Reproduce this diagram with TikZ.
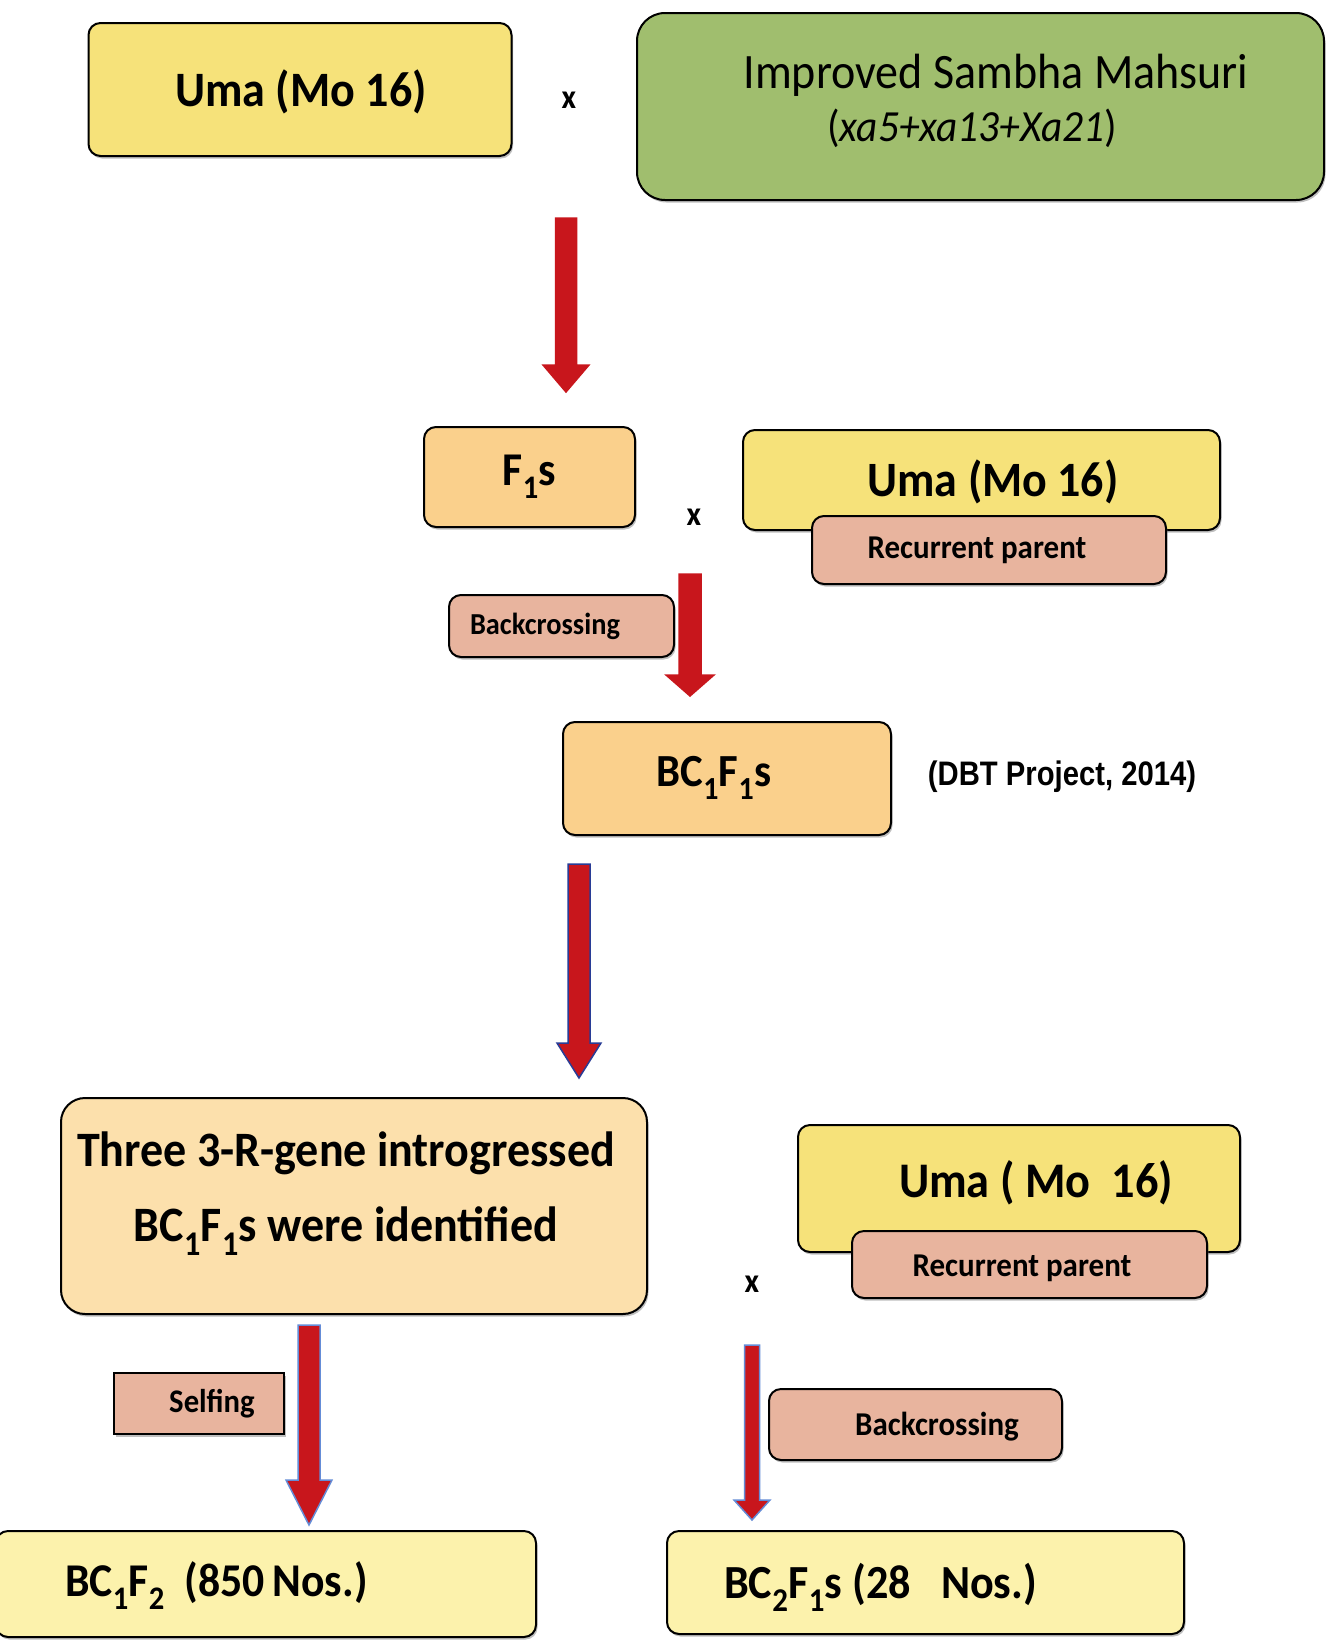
\documentclass[tikz,border=0pt]{standalone}
\usepackage{fontspec}
\setmainfont{Carlito}[FakeStretch=0.93]
\newfontfamily\arialfont{Liberation Sans}[FakeStretch=0.86]
\usetikzlibrary{shadows}
\definecolor{umayel}{RGB}{246,226,122}
\definecolor{sambgreen}{RGB}{160,190,110}
\definecolor{f1orange}{RGB}{250,208,140}
\definecolor{threebox}{RGB}{252,224,172}
\definecolor{recpink}{RGB}{232,180,158}
\definecolor{paleyel}{RGB}{252,242,172}
\definecolor{arrred}{RGB}{200,22,28}
\definecolor{navyedge}{RGB}{40,60,150}
\definecolor{lightblueedge}{RGB}{100,140,215}
\tikzset{
  box/.style={draw=black, line width=2pt, rounded corners=12pt, inner sep=0pt,
    drop shadow={shadow xshift=1.5pt, shadow yshift=-2.5pt, opacity=0.5}},
  txt/.style={font=\bfseries, inner sep=0pt},
}
\newcommand\fsz[1]{\fontsize{#1}{1.2\dimexpr#1pt\relax}\selectfont}
% \myarrow{x}{ytop}{ybottom}{shaft half}{head half}{head len}{fill}{edge}
\newcommand\myarrow[8]{%
  \filldraw[fill=#7, draw=#8, line width=1.5pt, line join=miter]
    (#1-#4,#2) -- (#1+#4,#2) -- (#1+#4,#3-#6) -- (#1+#5,#3-#6) -- (#1,#3)
    -- (#1-#5,#3-#6) -- (#1-#4,#3-#6) -- cycle;}
\begin{document}
\begin{tikzpicture}[x=1pt,y=-1pt]
\useasboundingbox[fill=white] (0,0) rectangle (1329,1652);

% top row
\node[box, fill=umayel, minimum width=423pt, minimum height=133pt] (uma1) at (300,89.5) {};
\node[txt, font=\bfseries\fsz{49.5}] (uma1t) at (301,92) {Uma (Mo 16)};
\node[txt, font=\bfseries\fsz{34}] (x1) at (569,100) {x};
\node[box, fill=sambgreen, rounded corners=28pt, minimum width=687pt, minimum height=187pt] (ism) at (980.5,106.5) {};
\node[inner sep=0pt, align=center] (ismt) at (982,101)
  {\fontsize{49.5}{56}\selectfont Improved Sambha Mahsuri\hspace*{-28pt}\\[11pt]
   \fontsize{44.5}{56}\selectfont(\textit{xa5+xa13+Xa21})\hspace*{20pt}};

\myarrow{566}{218}{392}{10.5}{23}{27}{arrred}{arrred}

% F1 row
\node[box, fill=f1orange, minimum width=211pt, minimum height=100pt] (f1) at (529.5,477) {};
\node[txt, font=\bfseries\fsz{47}] (f1t) at (f1.center) {F\textsubscript{1}s};
\node[txt, font=\bfseries\fsz{34}] (x2) at (694,517) {x};
\node[box, fill=umayel, minimum width=477pt, minimum height=100pt] (uma2) at (981.5,480) {};
\node[txt, font=\bfseries\fsz{49.4}] (uma2t) at (993,482) {Uma (Mo 16)};
\node[box, fill=recpink, minimum width=354pt, minimum height=68pt] (rp1) at (989,550) {};
\node[txt, font=\bfseries\fsz{33.3}] (rp1t) at (977,550) {Recurrent parent};

\node[box, fill=recpink, minimum width=225pt, minimum height=62pt] (bc1) at (561.5,626) {};
\node[txt, font=\bfseries\fsz{30.5}] (bc1t) at (545,626) {Backcrossing};
\myarrow{690}{574}{696}{11}{24}{21}{arrred}{arrred}

% BC1F1s
\node[box, fill=f1orange, minimum width=328pt, minimum height=113pt] (bcf) at (727,778.5) {};
\node[txt, font=\bfseries\fsz{46}] (bcft) at (714,778) {BC\textsubscript{1}F\textsubscript{1}s};
\node[txt, font=\arialfont\bfseries\fsz{34}] (dbt) at (1062,777) {(DBT Project, 2014)};

\myarrow{579}{864}{1078}{11}{22}{35}{arrred}{navyedge}

% Three 3-R-gene box
\node[box, fill=threebox, rounded corners=24pt, minimum width=586pt, minimum height=216pt] (three) at (354,1206) {};
\node[txt, align=center, font=\bfseries\fontsize{49.5}{75}\selectfont] (threet) at (346,1194)
  {Three 3-R-gene introgressed\\BC\textsubscript{1}F\textsubscript{1}s were identified};

\node[box, fill=umayel, minimum width=442pt, minimum height=127pt] (uma3) at (1019,1188.5) {};
\node[txt, font=\bfseries\fsz{49.8}] (uma3t) at (1036,1183) {Uma ( Mo~~16)};
\node[box, fill=recpink, minimum width=355pt, minimum height=67pt] (rp2) at (1029.5,1264.5) {};
\node[txt, font=\bfseries\fsz{33.3}] (rp2t) at (1022,1268) {Recurrent parent};
\node[txt, font=\bfseries\fsz{34}] (x3) at (752,1284) {x};

% lower arrows and labels
\node[draw=black, line width=2pt, fill=recpink, minimum width=170pt, minimum height=61pt,
  drop shadow={shadow xshift=1.5pt, shadow yshift=-2.5pt, opacity=0.5}] (self) at (199,1403.5) {};
\node[txt, font=\bfseries\fsz{33}] (selft) at (212,1404) {Selfing};
\myarrow{309}{1325}{1525}{11}{23}{45}{arrred}{lightblueedge}

\myarrow{752}{1345}{1520}{7.5}{18}{20}{arrred}{lightblueedge}
\node[box, fill=recpink, minimum width=293pt, minimum height=71pt] (bc2) at (915.5,1424.5) {};
\node[txt, font=\bfseries\fsz{33.3}] (bc2t) at (937,1427) {Backcrossing};

% bottom boxes
\node[box, fill=paleyel, minimum width=540pt, minimum height=106pt] (bcf2) at (266,1584) {};
\node[txt, font=\bfseries\fsz{47}, anchor=west] (bcf2t) at (65,1586) {BC\textsubscript{1}F\textsubscript{2}~~(850\,Nos.)};
\node[box, fill=paleyel, minimum width=517pt, minimum height=103pt] (bc2f) at (925.5,1582.5) {};
\node[txt, font=\bfseries\fsz{47.5}, anchor=west] (bc2ft) at (724,1587) {BC\textsubscript{2}F\textsubscript{1}s (28~~~Nos.)};
\end{tikzpicture}
\end{document}
